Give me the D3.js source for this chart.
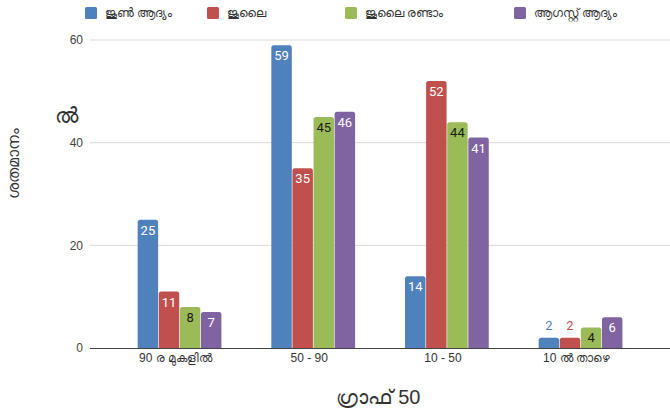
<!DOCTYPE html>
<html><head><meta charset="utf-8">
<script src="https://cdn.jsdelivr.net/npm/d3@7"></script>
<style>
html,body{margin:0;padding:0;background:#fff;}
svg{display:block;font-family:Roboto,"Noto Sans",sans-serif;}
</style></head>
<body><svg id="c" width="670" height="412"></svg>
<script>
const categories = ["90 ര മുകളിൽ", "50 - 90", "10 - 50", "10 ൽ താഴെ"];
const seriesNames = ["ജൂൺ ആദ്യം", "ജൂലൈ", "ജൂലൈ രണ്ടാം", "ആഗസ്റ്റ് ആദ്യം"];
const seriesColors = ["#4f81bd", "#c0504d", "#9bbb59", "#8064a2"];
const labelColors = ["#ffffff", "#ffffff", "#1a1a1a", "#ffffff"];
const juneEarly = [25, 59, 14, 2];
const july = [11, 35, 52, 2];
const julySecond = [8, 45, 44, 4];
const augustEarly = [7, 46, 41, 6];
const yTicks = [0, 20, 40, 60];
const yTitle = "ശതമാനം";
const xTitle = "ഗ്രാഫ് 50";
const strayText = "ൽ";

const seriesValues = [juneEarly, july, julySecond, augustEarly];
const svg = d3.select("#c");
const plotL = 90, plotR = 670, plotT = 40, plotB = 348;
const axisFont = '"Liberation Sans",Arial,sans-serif';

const y = d3.scaleLinear().domain([0, 60]).range([plotB, plotT]);
const x0 = d3.scaleBand().domain(categories).range([112.7, 647.4]).paddingInner(0.364).paddingOuter(0.182);
const x1 = d3.scaleBand().domain(d3.range(4)).range([0, x0.bandwidth()]).padding(0.03);

// gridlines
svg.append("g").selectAll("line").data(yTicks.filter(t => t > 0)).join("line")
  .attr("x1", plotL).attr("x2", plotR)
  .attr("y1", d => y(d)).attr("y2", d => y(d))
  .attr("stroke", "#d9d9d9").attr("stroke-width", 1);

// y tick labels
svg.append("g").selectAll("text").data(yTicks).join("text")
  .attr("x", 83).attr("y", d => y(d)).attr("dy", "0.35em")
  .attr("text-anchor", "end").attr("font-size", 12).attr("fill", "#444")
  .attr("font-family", axisFont)
  .text(d => d);

// bars
const groups = svg.append("g").selectAll("g").data(categories).join("g")
  .attr("transform", d => `translate(${x0(d)},0)`);

function topRounded(xx, yy, w, h, r) {
  r = Math.min(r, h, w / 2);
  return `M${xx},${yy + h}V${yy + r}Q${xx},${yy} ${xx + r},${yy}H${xx + w - r}Q${xx + w},${yy} ${xx + w},${yy + r}V${yy + h}Z`;
}

groups.each(function(cat, ci) {
  const g = d3.select(this);
  seriesValues.forEach((vals, si) => {
    const v = vals[ci];
    const bx = x1(si), bw = x1.bandwidth();
    const by = y(v), bh = y(0) - y(v);
    g.append("path").attr("d", topRounded(bx, by, bw, bh, 2.5))
      .attr("fill", seriesColors[si]);
    const inside = bh > 18;
    g.append("text")
      .attr("x", bx + bw / 2)
      .attr("y", inside ? by + 15 : by - 8)
      .attr("text-anchor", "middle").attr("font-size", 13)
      .attr("fill", inside ? labelColors[si] : seriesColors[si])
      .text(v);
  });
});

// x axis line
svg.append("line").attr("x1", plotL).attr("x2", plotR)
  .attr("y1", plotB + 0.5).attr("y2", plotB + 0.5)
  .attr("stroke", "#444").attr("stroke-width", 1.2);

// category labels
svg.append("g").selectAll("text").data(categories).join("text")
  .attr("x", d => x0(d) + x0.bandwidth() / 2 - 4).attr("y", 362)
  .attr("text-anchor", "middle").attr("font-size", 12).attr("fill", "#333")
  .attr("font-family", axisFont)
  .text(d => d);

// x title
svg.append("text").attr("x", 378).attr("y", 404).attr("text-anchor", "middle")
  .attr("font-size", 20).attr("fill", "#333").attr("font-family", axisFont).text(xTitle);

// y title
svg.append("text").attr("transform", "translate(19,163) rotate(-90)")
  .attr("text-anchor", "middle").attr("font-size", 16).attr("fill", "#333")
  .attr("font-family", axisFont).text(yTitle);

svg.append("text").attr("x", 66).attr("y", 123).attr("text-anchor", "middle")
  .attr("font-size", 21).attr("fill", "#333").attr("font-family", axisFont).text(strayText);

// legend
const legendX = [85, 207, 345, 514];
const lg = svg.append("g").selectAll("g").data(seriesNames).join("g")
  .attr("transform", (d, i) => `translate(${legendX[i]},7)`);
lg.append("rect").attr("width", 12).attr("height", 12).attr("rx", 1.5)
  .attr("fill", (d, i) => seriesColors[i]);
lg.append("text").attr("x", 20).attr("y", 6).attr("dy", "0.35em")
  .attr("font-size", 12).attr("fill", "#333").attr("font-family", axisFont).text(d => d);
</script></body></html>
